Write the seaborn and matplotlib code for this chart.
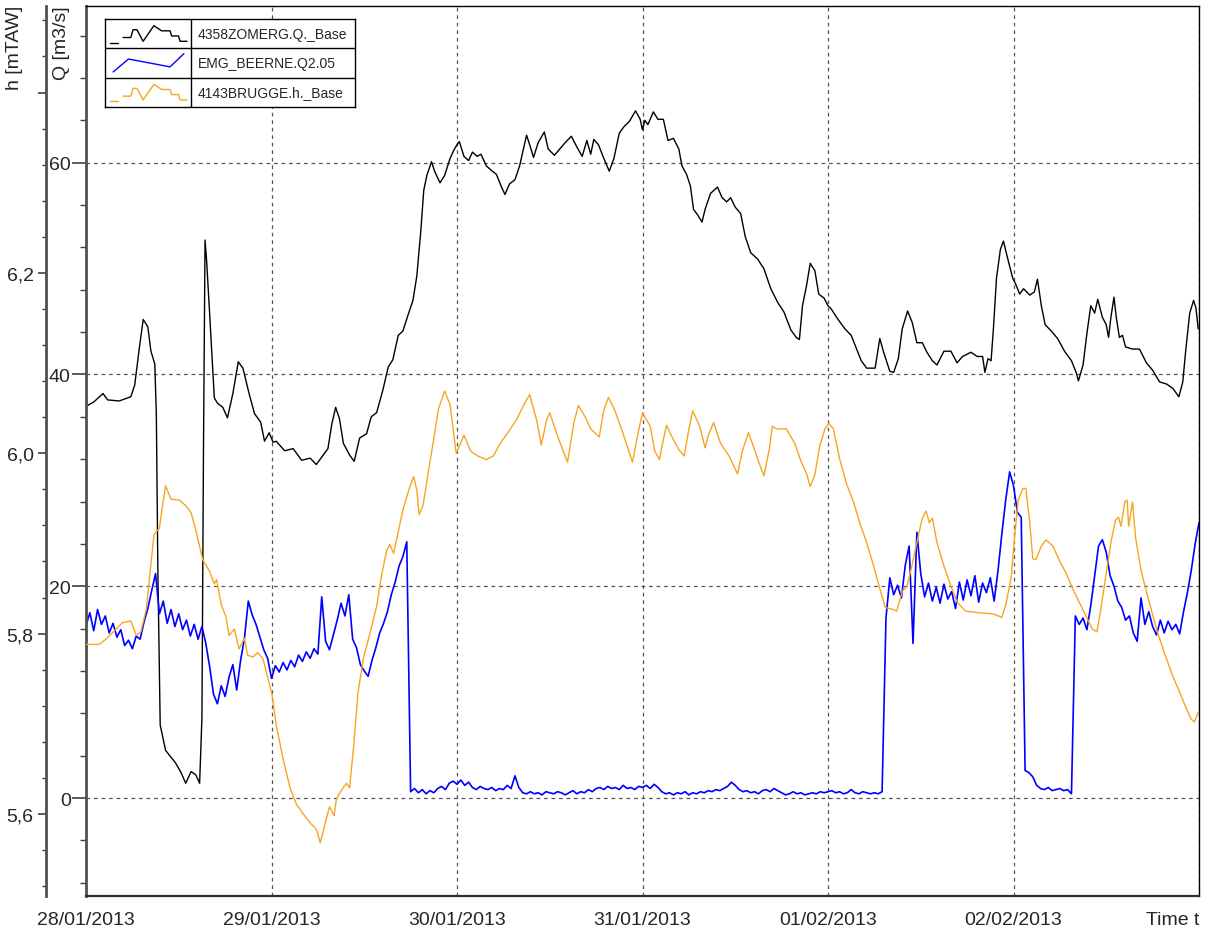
import numpy as np
import pandas as pd
import matplotlib
matplotlib.use("Agg")
import matplotlib.pyplot as plt
from matplotlib.ticker import MultipleLocator, FuncFormatter
import seaborn as sns

# Time axis
START = pd.Timestamp("2013-01-28")
DAYS = pd.date_range("2013-01-28", "2013-02-03", freq="D")
DAY_LABELS = ["28/01/2013", "29/01/2013", "30/01/2013", "31/01/2013",
              "01/02/2013", "02/02/2013", "Time t"]

SERIES_LABELS = ["4358ZOMERG.Q._Base", "EMG_BEERNE.Q2.05", "4143BRUGGE.h._Base"]
SERIES_COLORS = ["black", "#0000ff", "#f5a623"]

# 4358ZOMERG discharge [m3/s], hours since 28/01 00:00
ZOMERG_HOURS = [
    0.0, 1.0, 2.2, 2.8, 4.3, 5.8, 6.3, 6.9, 7.4, 8.0, 8.4, 8.9, 9.1, 9.3, 9.6,
    10.3, 11.6, 12.3, 12.9, 13.6, 14.2, 14.7, 15.0, 15.2, 15.4, 15.6, 16.0,
    16.6, 17.0, 17.7, 18.3, 19.0, 19.7, 20.3, 21.1, 21.8, 22.6, 23.1, 23.7,
    24.2, 24.6, 25.7, 26.8, 27.9, 29.0, 29.8, 30.7, 31.3, 31.8, 32.3, 32.8,
    33.3, 34.1, 34.7, 35.4, 36.3, 36.9, 37.6, 38.4, 39.1, 39.7, 40.4, 41.0,
    41.7, 42.3, 42.8, 43.3, 43.7, 44.1, 44.7, 45.1, 45.8, 46.4, 47.1, 47.6,
    48.0, 48.3, 48.9, 49.5, 50.0, 50.6, 51.1, 51.8, 52.4, 53.1, 53.7, 54.2,
    54.8, 55.5, 56.1, 56.6, 57.0, 57.4, 57.9, 58.5, 59.3, 59.8, 60.6, 61.3,
    62.0, 62.8, 63.5, 64.2, 64.8, 65.3, 65.7, 66.3, 67.0, 67.7, 68.3, 69.0,
    69.6, 70.3, 71.1, 71.7, 72.0, 72.3, 72.7, 73.4, 74.0, 74.7, 75.3, 76.0,
    76.7, 77.1, 77.7, 78.2, 78.6, 79.1, 79.7, 80.1, 80.8, 81.7, 82.3, 82.9,
    83.4, 84.0, 84.7, 85.3, 86.0, 86.9, 87.7, 88.6, 89.5, 90.3, 91.2, 91.9,
    92.3, 92.7, 93.2, 93.7, 94.3, 94.8, 95.5, 96.0, 96.4, 97.3, 98.2, 99.0,
    99.7, 100.3, 101.0, 102.1, 102.7, 103.2, 104.0, 104.5, 105.1, 105.6,
    106.3, 106.9, 107.5, 108.2, 108.8, 109.5, 110.1, 111.0, 111.9, 112.7,
    113.4, 114.5, 115.3, 116.0, 116.3, 116.7, 117.1, 117.4, 117.8, 118.3,
    118.7, 119.3, 119.9, 120.3, 120.8, 121.3, 122.1, 122.7, 123.1, 123.6,
    124.1, 124.9, 125.7, 126.6, 127.5, 128.1, 128.4, 129.0, 129.5, 130.0,
    130.5, 130.9, 131.5, 132.0, 132.3, 132.6, 133.0, 133.3, 133.7, 134.1,
    134.5, 135.4, 136.3, 137.2, 138.0, 138.9, 139.8, 140.6, 141.4, 141.9,
    142.3, 142.8, 143.3, 143.6, 143.9,
]
ZOMERG_Q = [
    37.0, 37.4, 38.2, 37.6, 37.5, 37.9, 39.0, 42.5, 45.2, 44.5, 42.2, 41.0, 36.3, 21.4, 6.9,
    4.5, 3.3, 2.4, 1.4, 2.5, 2.2, 1.4, 7.6, 33.1, 52.7, 50.8, 45.7,
    37.8, 37.3, 36.9, 35.9, 38.2, 41.2, 40.6, 38.2, 36.3, 35.5, 33.7, 34.5,
    33.6, 33.7, 32.8, 33.0, 31.9, 32.1, 31.5, 32.4, 33.0, 35.3, 36.9, 35.8,
    33.5, 32.4, 31.8, 34.0, 34.4, 36.0, 36.4, 38.5, 40.7, 41.4, 43.7, 44.1,
    45.7, 47.0, 49.3, 53.4, 57.4, 58.8, 60.1, 59.2, 58.1, 58.8, 60.4, 61.2,
    61.7, 62.0, 60.6, 60.2, 61.0, 60.6, 60.8, 59.7, 59.3, 58.9, 57.8, 57.0,
    58.0, 58.4, 59.7, 61.3, 62.6, 61.7, 60.5, 61.9, 62.9, 61.3, 60.7, 61.3,
    61.9, 62.5, 61.5, 60.6, 62.1, 60.8, 62.2, 61.7, 60.4, 59.2, 60.4, 62.8,
    63.4, 63.9, 64.9, 64.1, 63.1, 64.0, 63.6, 64.8, 64.1, 64.1, 62.1, 62.3,
    61.3, 59.7, 58.9, 57.8, 55.6, 55.1, 54.4, 55.6, 57.1, 57.7, 56.7, 56.3,
    56.7, 55.8, 55.2, 53.0, 51.5, 50.9, 50.0, 48.1, 46.8, 45.9, 44.2, 43.5,
    43.3, 46.5, 48.3, 50.5, 49.8, 47.6, 47.2, 46.5, 46.2, 45.2, 44.3, 43.7,
    42.4, 41.3, 40.6, 40.6, 43.4, 42.1, 40.3, 40.2, 41.5, 44.3,
    46.0, 44.9, 43.0, 43.0, 42.1, 41.3, 40.9, 42.2, 42.2, 41.1,
    41.7, 42.1, 41.7, 41.7, 40.2, 41.5, 41.3, 44.3, 49.1, 51.8,
    52.6, 50.8, 49.1, 48.5, 47.6, 48.1, 47.5, 47.8, 49.0, 46.5,
    44.7, 44.1, 43.4, 42.2, 41.3, 40.2, 39.4, 40.9, 43.9, 46.5,
    45.8, 47.1, 45.4, 44.7, 43.5, 45.4, 47.3, 45.4, 43.5, 43.7,
    42.6, 42.4, 42.4, 41.1, 40.4, 39.3, 39.1, 38.7, 37.9, 39.3,
    42.4, 45.8, 47.0, 46.3, 44.3,
]

# EMG_BEERNE discharge [m3/s], one value every half hour from 28/01 00:00
BEERNE_STEP_HOURS = 0.5
BEERNE_Q = [
    16.3, 17.5, 15.8, 17.8, 16.4, 17.2, 15.6, 16.5, 15.2, 15.9, 14.4, 14.9,
    14.1, 15.3, 15.0, 16.6, 17.9, 19.6, 21.2, 17.4, 18.6, 16.5, 17.8, 16.2,
    17.4, 15.9, 16.8, 15.3, 16.4, 15.0, 16.2, 14.6, 12.4, 9.8, 8.9, 10.6,
    9.6, 11.4, 12.6, 10.2, 13.0, 15.1, 18.6, 17.3, 16.4, 15.2, 14.0, 13.2,
    11.3, 12.5, 11.9, 12.8, 12.1, 13.0, 12.4, 13.5, 12.9, 13.8, 13.2, 14.1,
    13.6, 19.0, 14.8, 14.0, 15.4, 16.8, 18.4, 17.2, 19.2, 15.0, 14.2, 12.6,
    12.0, 11.5, 13.0, 14.2, 15.6, 16.5, 17.6, 19.2, 20.4, 21.9, 22.8, 24.2,
    0.6, 0.9, 0.5, 0.8, 0.4, 0.7, 0.5, 0.9, 1.1, 0.8, 1.4, 1.6,
    1.3, 1.7, 1.2, 1.5, 1.0, 0.8, 1.1, 0.9, 0.8, 1.0, 0.7, 0.9,
    0.8, 1.2, 0.9, 2.1, 1.0, 0.5, 0.4, 0.6, 0.4, 0.5, 0.3, 0.6,
    0.5, 0.4, 0.6, 0.5, 0.3, 0.5, 0.7, 0.4, 0.6, 0.5, 0.8, 0.6,
    0.9, 1.0, 0.8, 1.1, 0.9, 1.0, 0.8, 1.2, 0.9, 1.0, 0.8, 1.1,
    1.0, 1.2, 0.9, 1.3, 1.0, 0.6, 0.4, 0.5, 0.3, 0.5, 0.4, 0.6,
    0.3, 0.5, 0.4, 0.6, 0.5, 0.7, 0.6, 0.8, 0.7, 0.9, 1.1, 1.5,
    1.2, 0.8, 0.6, 0.7, 0.5, 0.6, 0.4, 0.7, 0.8, 0.6, 0.9, 0.7,
    0.5, 0.3, 0.4, 0.6, 0.4, 0.5, 0.3, 0.4, 0.5, 0.4, 0.6, 0.5,
    0.6, 0.7, 0.5, 0.6, 0.4, 0.5, 0.8, 0.5, 0.4, 0.6, 0.5, 0.4,
    0.5, 0.4, 0.6, 17.0, 20.8, 19.2, 20.1, 18.9, 22.0, 23.8, 14.6, 25.1,
    21.2, 19.0, 20.3, 18.6, 19.9, 18.4, 20.2, 18.8, 19.5, 17.9, 20.4, 18.7,
    20.6, 19.1, 21.0, 18.5, 20.3, 19.4, 20.8, 18.6, 21.5, 25.0, 28.2, 30.8,
    29.5, 27.0, 26.5, 2.6, 2.4, 2.0, 1.2, 0.9, 0.8, 1.0, 0.7, 0.8,
    0.9, 0.7, 0.8, 0.4, 17.2, 16.4, 17.0, 15.9, 18.2, 21.0, 23.8, 24.4,
    23.2, 21.0, 20.0, 18.6, 18.0, 16.8, 17.2, 15.6, 14.8, 18.9, 16.4, 17.6,
    16.2, 15.4, 16.8, 15.6, 16.7, 15.9, 16.4, 15.5, 17.6, 19.4, 21.5, 24.0,
    26.0,
]

# 4143BRUGGE water level [mTAW], hours since 28/01 00:00
BRUGGE_HOURS = [
    0.0, 1.7, 2.6, 3.9, 4.7, 5.8, 6.5, 7.1, 7.8, 8.2, 8.8, 9.5, 9.9, 10.3,
    11.0, 12.1, 12.9, 13.6, 14.2, 15.1, 16.0, 16.6, 16.9, 17.5, 18.1, 18.5,
    19.2, 19.8, 20.5, 20.9, 21.6, 22.2, 22.9, 23.5, 24.1, 24.6, 25.5, 26.4,
    27.2, 28.1, 29.0, 29.6, 29.9, 30.3, 30.7, 31.1, 31.5, 32.1, 32.4, 33.1,
    33.7, 34.1, 34.6, 35.2, 35.9, 36.7, 37.6, 38.2, 38.9, 39.3, 39.8, 40.4,
    41.0, 41.9, 42.4, 42.8, 43.1, 43.6, 44.3, 44.9, 45.6, 46.4, 47.1, 47.9,
    48.9, 49.8, 50.7, 51.8, 52.7, 53.6, 54.6, 55.7, 56.6, 57.4, 58.3, 58.9,
    59.6, 60.0, 61.1, 62.3, 63.1, 63.7, 64.6, 65.3, 66.4, 67.0, 67.6, 68.4,
    69.4, 70.7, 71.3, 72.0, 73.0, 73.6, 74.2, 74.5, 75.1, 76.0, 76.7, 77.4,
    78.0, 78.5, 79.4, 80.1, 80.6, 81.2, 82.1, 83.2, 84.3, 84.9, 85.7, 86.2,
    87.1, 87.7, 88.4, 88.8, 89.3, 90.6, 91.7, 92.5, 93.2, 93.7, 94.3, 94.9,
    95.6, 96.1, 96.7, 97.5, 98.4, 99.3, 100.1, 101.0, 101.9, 102.6, 103.4,
    104.3, 104.9, 105.6, 106.2, 106.8, 107.5, 108.2, 108.7, 109.1, 109.5,
    110.1, 111.0, 111.9, 112.7, 113.8, 115.6, 117.3, 118.5, 119.0, 119.7,
    120.1, 120.6, 121.2, 121.6, 122.1, 122.5, 122.9, 123.6, 124.2, 125.1,
    126.0, 126.8, 127.7, 128.5, 129.4, 130.2, 130.8, 131.3, 132.0, 132.6,
    133.2, 133.6, 133.9, 134.4, 134.7, 134.9, 135.4, 135.8, 136.5, 137.4,
    138.5, 139.5, 140.6, 141.5, 142.3, 143.0, 143.4, 143.9,
]
BRUGGE_H = [
    5.788, 5.788, 5.794, 5.805, 5.812, 5.814, 5.798, 5.802, 5.827, 5.860, 5.910, 5.917, 5.942, 5.964,
    5.949, 5.948, 5.942, 5.934, 5.915, 5.882, 5.869, 5.855, 5.860, 5.832, 5.819, 5.798,
    5.805, 5.783, 5.795, 5.776, 5.774, 5.779, 5.772, 5.752, 5.731, 5.699, 5.661, 5.629,
    5.611, 5.600, 5.590, 5.585, 5.581, 5.568, 5.581, 5.595, 5.608, 5.598, 5.617, 5.627,
    5.634, 5.629, 5.672, 5.735, 5.773, 5.799, 5.830, 5.863, 5.892, 5.899, 5.889, 5.913,
    5.937, 5.963, 5.974, 5.959, 5.932, 5.942, 5.980, 6.011, 6.049, 6.069, 6.054, 6.000,
    6.020, 6.002, 5.997, 5.993, 5.997, 6.011, 6.023, 6.037, 6.053, 6.065, 6.037, 6.009,
    6.037, 6.045, 6.017, 5.990, 6.033, 6.053, 6.040, 6.027, 6.018, 6.048, 6.062, 6.048,
    6.024, 5.990, 6.017, 6.045, 6.030, 6.002, 5.993, 6.007, 6.031, 6.015, 6.004, 5.997,
    6.027, 6.047, 6.030, 6.006, 6.022, 6.034, 6.011, 5.997, 5.977, 6.002, 6.023, 6.011,
    5.989, 5.975, 6.004, 6.030, 6.027, 6.027, 6.011, 5.991, 5.978, 5.963, 5.976, 6.007,
    6.027, 6.033, 6.027, 5.994, 5.966, 5.946, 5.923, 5.901, 5.875, 5.853, 5.829,
    5.827, 5.825, 5.847, 5.852, 5.873, 5.901, 5.928, 5.936, 5.923, 5.928,
    5.901, 5.875, 5.853, 5.835, 5.825, 5.823, 5.822, 5.818, 5.832, 5.862,
    5.903, 5.948, 5.961, 5.961, 5.923, 5.883, 5.882, 5.897, 5.904, 5.897,
    5.880, 5.867, 5.849, 5.835, 5.819, 5.805, 5.802, 5.827, 5.867, 5.901,
    5.926, 5.929, 5.919, 5.946, 5.948, 5.919, 5.946, 5.906, 5.870, 5.840,
    5.805, 5.779, 5.753, 5.735, 5.718, 5.705, 5.702, 5.713,
]

# Legend glyph outlines (fraction of the glyph cell)
STEP_ICON = [
    [(0.0, 0.12), (0.10, 0.12)],
    [(0.17, 0.35), (0.27, 0.35), (0.30, 0.70), (0.35, 0.70), (0.43, 0.18),
     (0.57, 0.88), (0.67, 0.65), (0.78, 0.65), (0.80, 0.42), (0.89, 0.42),
     (0.91, 0.18), (1.0, 0.18)],
]
SLOPE_ICON = [
    [(0.04, 0.12), (0.24, 0.70), (0.78, 0.35), (0.96, 0.94)],
]

FIG_W, FIG_H = 1208, 937
Q_LIMITS = (-9.25, 74.8)
H_LIMITS = (5.509, 6.496)

sns.set_style("white")
plt.rcParams["font.family"] = ["Liberation Sans", "DejaVu Sans"]


def _to_frame(hours, values):
    return pd.DataFrame({
        "time": START + pd.to_timedelta(np.asarray(hours), unit="h"),
        "value": values,
    })


def _comma(v, pos):
    # The 6,4 label is hidden behind the axis title in the original
    if v > 6.3:
        return ""
    return f"{v:.1f}".replace(".", ",")


def _draw_legend(fig):
    # Table-like legend: glyph cell | name cell, one row per series
    left, top, width, height = 105, 20, 250, 88
    lax = fig.add_axes([left / FIG_W, 1 - (top + height) / FIG_H,
                        width / FIG_W, height / FIG_H])
    lax.set_xlim(0, width)
    lax.set_ylim(height, 0)
    lax.set_xticks([])
    lax.set_yticks([])
    lax.set_facecolor("white")
    for s in lax.spines.values():
        s.set_color("black")
        s.set_linewidth(1.0)
    row_h = height / 3
    divider = 86
    lax.axvline(divider, color="black", lw=1.0)
    for i in (1, 2):
        lax.axhline(i * row_h, color="black", lw=1.0)
    icons = [STEP_ICON, SLOPE_ICON, STEP_ICON]
    for i, (label, color, icon) in enumerate(zip(SERIES_LABELS, SERIES_COLORS, icons)):
        y0 = i * row_h
        for part in icon:
            xs = [5 + px * 77 for px, _ in part]
            ys = [y0 + row_h - 3 - py * (row_h - 7) for _, py in part]
            lax.plot(xs, ys, color=color, lw=1.0)
        lax.text(divider + 7, y0 + row_h / 2, label, fontsize=10,
                 va="center", ha="left")


def main():
    fig = plt.figure(figsize=(FIG_W / 100, FIG_H / 100), dpi=100)
    ax = fig.add_axes([86 / FIG_W, 1 - 897 / FIG_H, 1113 / FIG_W, 890 / FIG_H])
    ax_h = ax.twinx()

    zomerg = _to_frame(ZOMERG_HOURS, ZOMERG_Q)
    beerne = _to_frame(np.arange(len(BEERNE_Q)) * BEERNE_STEP_HOURS, BEERNE_Q)
    brugge = _to_frame(BRUGGE_HOURS, BRUGGE_H)

    # Discharges on the inner Q axis, water level on the outer h axis
    sns.lineplot(data=brugge, x="time", y="value", ax=ax_h,
                 color=SERIES_COLORS[2], lw=1.0)
    sns.lineplot(data=zomerg, x="time", y="value", ax=ax,
                 color=SERIES_COLORS[0], lw=1.0)
    sns.lineplot(data=beerne, x="time", y="value", ax=ax,
                 color=SERIES_COLORS[1], lw=1.2)

    ax.set_xlim(DAYS[0], DAYS[-1])
    ax.set_ylim(*Q_LIMITS)
    ax_h.set_ylim(*H_LIMITS)
    ax.set_xlabel("")
    ax.set_ylabel("")
    ax_h.set_xlabel("")
    ax_h.set_ylabel("")

    # Q axis (plot frame left side)
    ax.yaxis.set_major_locator(MultipleLocator(20))
    ax.yaxis.set_minor_locator(MultipleLocator(4))
    ax.tick_params(axis="y", which="major", direction="out", length=10,
                   width=1.2, pad=1, labelsize=14, color="#404040")
    ax.tick_params(axis="y", which="minor", direction="out", length=4,
                   width=1.0, color="#404040")

    # h axis, moved outward to the left by 40 px (given in points)
    ax_h.spines["left"].set_position(("outward", 40 * 0.72))
    ax_h.spines["left"].set_visible(True)
    ax_h.spines["right"].set_visible(False)
    ax_h.spines["top"].set_visible(False)
    ax_h.spines["bottom"].set_visible(False)
    ax_h.yaxis.set_ticks_position("left")
    ax_h.yaxis.set_label_position("left")
    ax_h.yaxis.set_major_locator(MultipleLocator(0.2))
    ax_h.yaxis.set_minor_locator(MultipleLocator(0.04))
    ax_h.yaxis.set_major_formatter(FuncFormatter(_comma))
    ax_h.tick_params(axis="y", which="major", direction="out", length=6,
                     width=1.2, pad=3, labelsize=14, color="#404040")
    ax_h.tick_params(axis="y", which="minor", direction="out", length=3,
                     width=1.0, color="#404040")

    # Time axis
    ax.set_xticks(DAYS)
    ax.set_xticklabels(DAY_LABELS)
    ax.tick_params(axis="x", which="major", direction="out", length=8,
                   width=1.0, pad=3, labelsize=14, color="#202020")
    ax.get_xticklabels()[-1].set_ha("right")

    # Dashed grid at the major ticks
    ax.grid(True, which="major", axis="both", color="#555555",
            linestyle=(0, (3, 3)), linewidth=0.9)
    ax.set_axisbelow(True)

    for name, s in ax.spines.items():
        s.set_visible(True)
        s.set_color("black")
        s.set_linewidth(1.0)
    ax.spines["left"].set_color("#505050")
    ax.spines["left"].set_linewidth(2.0)
    ax.spines["bottom"].set_linewidth(1.6)
    ax.spines["bottom"].set_color("#303030")
    ax_h.spines["left"].set_color("#505050")
    ax_h.spines["left"].set_linewidth(2.0)

    # Axis titles at the top of both scales
    fig.text(15 / FIG_W, 1 - 6 / FIG_H, "h [mTAW]", rotation=90,
             va="top", ha="center", fontsize=14)
    fig.text(61 / FIG_W, 1 - 6 / FIG_H, "Q [m3/s]", rotation=90,
             va="top", ha="center", fontsize=14)

    _draw_legend(fig)

    fig.savefig("out.png", dpi=100)


if __name__ == "__main__":
    main()
